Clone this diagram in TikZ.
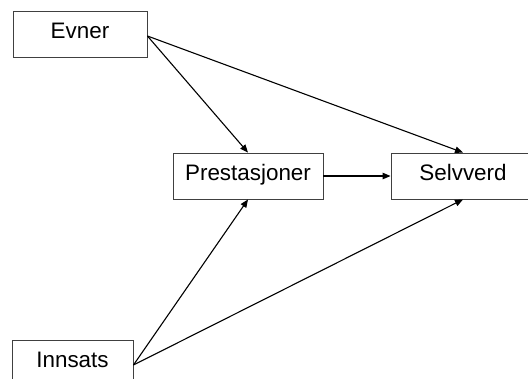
\documentclass[tikz,border=0pt]{standalone}
\usepackage{fontspec}
\setmainfont{Liberation Sans}
\usetikzlibrary{arrows.meta}
\begin{document}
\begin{tikzpicture}[x=1bp,y=-1bp,
  box/.style={draw=black!75, line width=0.9bp, rectangle, inner sep=0pt, minimum height=46bp, text height=16.1bp, text depth=8bp, font=\fontsize{22.5}{26}\selectfont},
  arr/.style={line width=1.1bp, -{Triangle[length=8bp,width=6.5bp]}}]
\useasboundingbox (0,0) rectangle (528,378);
\node[box, minimum width=134bp] (ev) at (80,34.5) {Evner};
\node[box, minimum width=150bp] (pr) at (248,176) {Prestasjoner};
\node[box, minimum width=144bp] (se) at (463,176) {Selvverd};
\node[box, minimum width=121bp] (in) at (72.5,363) {Innsats};
\coordinate (evo) at ([yshift=-1.5bp]ev.east);
\coordinate (ino) at ([yshift=-2bp]in.east);
\draw[arr] (evo) -- (pr.north);
\draw[arr] (evo) -- (se.north);
\draw[arr] (pr.east) -- (se.west);
\draw[arr] (ino) -- (pr.south);
\draw[arr] (ino) -- (se.south);
\end{tikzpicture}
\end{document}
